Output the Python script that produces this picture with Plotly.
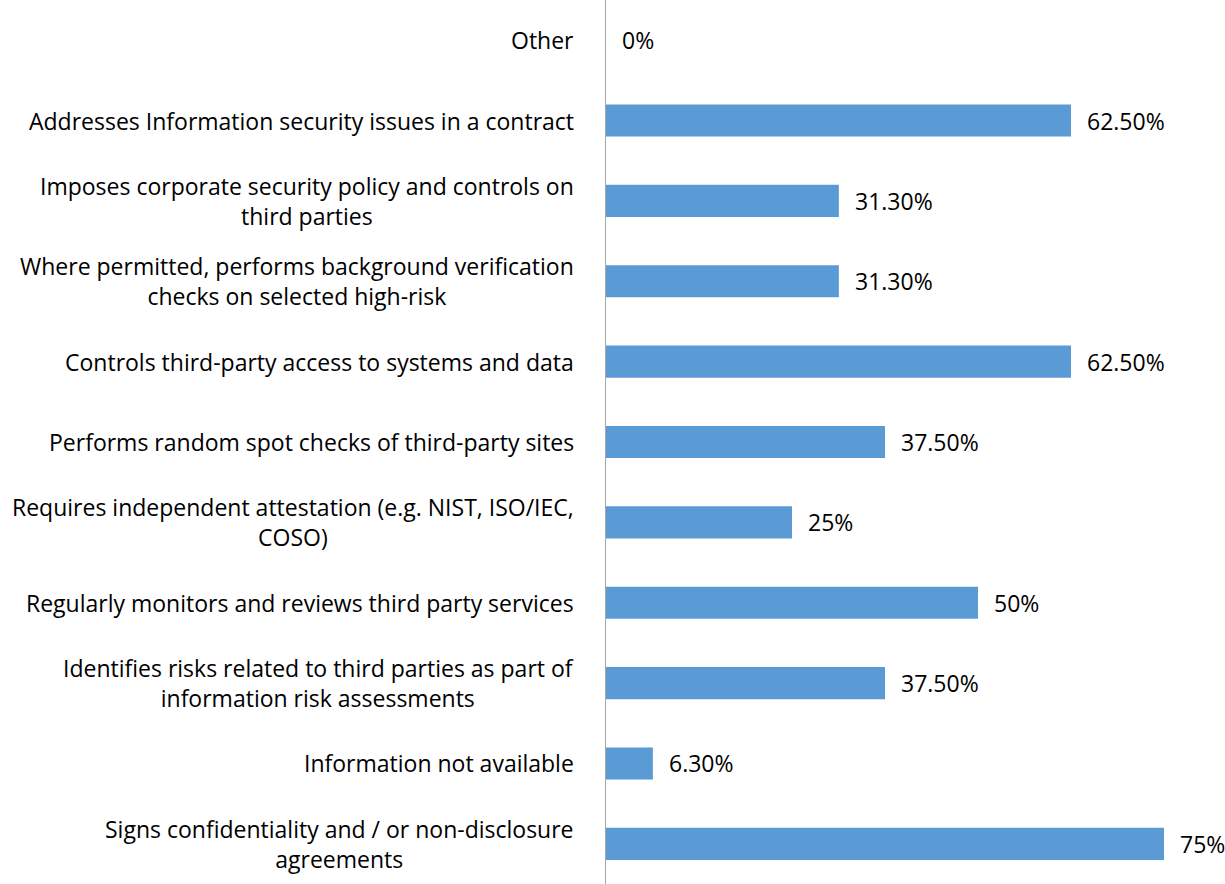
import plotly.graph_objects as go

categories = [
    "Other",
    "Addresses Information security issues in a contract",
    "Imposes corporate security policy and controls on<br>third parties",
    "Where permitted, performs background verification<br>checks on selected high-risk",
    "Controls third-party access to systems and data",
    "Performs random spot checks of third-party sites",
    "Requires independent attestation (e.g. NIST, ISO/IEC,<br>COSO)",
    "Regularly monitors and reviews third party services",
    "Identifies risks related to third parties as part of<br>information risk assessments",
    "Information not available",
    "Signs confidentiality and / or non-disclosure<br>agreements",
]
values = [0, 62.5, 31.3, 31.3, 62.5, 37.5, 25, 50, 37.5, 6.3, 75]
value_labels = ["0%", "62.50%", "31.30%", "31.30%", "62.50%", "37.50%", "25%",
                "50%", "37.50%", "6.30%", "75%"]

FONT = "'Open Sans', sans-serif"
BAR_COLOR = "#5B9BD5"

fig = go.Figure()
fig.add_trace(go.Bar(
    x=values,
    y=categories,
    orientation="h",
    marker=dict(color=BAR_COLOR, line=dict(width=0)),
    width=0.4,
    hoverinfo="skip",
))

annotations = []
for cat, v, lab in zip(categories, values, value_labels):
    annotations.append(dict(
        x=v, y=cat, xref="x", yref="y", text=lab, showarrow=False,
        xanchor="left", yanchor="middle", xshift=14,
        font=dict(family=FONT, size=23, color="#000000"),
    ))
    annotations.append(dict(
        x=0, y=cat, xref="paper", yref="y", text=cat, showarrow=False,
        xanchor="right", yanchor="middle", xshift=-30, align="center",
        font=dict(family=FONT, size=23, color="#000000"),
    ))

fig.update_layout(
    width=1225, height=884,
    margin=dict(l=606, r=0, t=0, b=0),
    paper_bgcolor="white", plot_bgcolor="white",
    showlegend=False,
    annotations=annotations,
    xaxis=dict(range=[0, 83.2], showgrid=False, zeroline=False,
               showticklabels=False, showline=False, ticks=""),
    yaxis=dict(autorange="reversed", showgrid=False, zeroline=False,
               showticklabels=False, showline=True, linecolor="#A6A6A6",
               linewidth=1, ticks=""),
    bargap=0.6,
)

fig.write_html("out.html", config={"displayModeBar": False},
               post_script="document.body.style.margin='0';document.body.style.overflow='hidden';")
